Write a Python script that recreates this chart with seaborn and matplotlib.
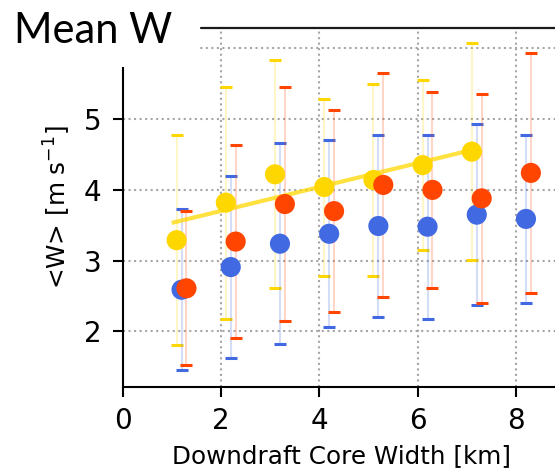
import numpy as np
import pandas as pd
import matplotlib
matplotlib.use("Agg")
import matplotlib.pyplot as plt
import seaborn as sns
from matplotlib.patches import Rectangle
from matplotlib.lines import Line2D

# Downdraft core width bins [km]
core_width_km = [1, 2, 3, 4, 5, 6, 7, 8]

# Mean vertical velocity <W> and its spread for each case
w_gold = [3.29, 3.82, 4.22, 4.04, 4.14, 4.35, 4.54]
err_gold = [1.48, 1.64, 1.61, 1.25, 1.36, 1.20, 1.53]

w_blue = [2.59, 2.91, 3.24, 3.38, 3.49, 3.48, 3.65, 3.59]
err_blue = [1.14, 1.28, 1.42, 1.32, 1.28, 1.30, 1.28, 1.19]

w_red = [2.61, 3.27, 3.80, 3.70, 4.07, 4.00, 3.88, 4.24]
err_red = [1.09, 1.36, 1.65, 1.43, 1.58, 1.38, 1.48, 1.70]

x_ticks = [0, 2, 4, 6, 8]
y_ticks = [2, 3, 4, 5, 6]
y_tick_labels = ["2", "3", "4", "5", ""]

series = [
    ("gold", w_gold, err_gold, "#FFD700", 0.1),
    ("blue", w_blue, err_blue, "#4169E1", 0.2),
    ("red", w_red, err_red, "#FF4500", 0.3),
]

frames = []
for name, mean, err, color, offset in series:
    bins = np.array(core_width_km[: len(mean)], dtype=float)
    frames.append(pd.DataFrame({"x": bins + offset, "w": mean, "err": err, "series": name}))
df = pd.concat(frames, ignore_index=True)

sns.set_style("ticks", {"axes.edgecolor": "black", "text.color": "black",
                        "axes.labelcolor": "black", "xtick.color": "black",
                        "ytick.color": "black"})
plt.rcParams["font.family"] = ["DejaVu Sans"]

W, H = 555, 468
fig = plt.figure(figsize=(W / 100, H / 100), dpi=100)
ax_left, ax_bottom = 122.5, 81.5
ax = fig.add_axes([ax_left / W, ax_bottom / H, 1 - ax_left / W, 1 - ax_bottom / H])

ax.grid(True, ls=":", color="#a6a6a6", lw=1.5, zorder=0)
ax.set_axisbelow(True)

# error bars: faint stems, solid caps
for name, mean, err, color, offset in series:
    sub = df[df.series == name]
    eb = ax.errorbar(sub.x, sub.w, yerr=sub.err, fmt="none", ecolor=color,
                     elinewidth=1.5, capsize=4.2, capthick=2.2, zorder=2)
    for coll in eb[2]:
        coll.set_alpha(0.22)

# linear trend through the gold case
gold = df[df.series == "gold"]
coef = np.polyfit(gold.x, gold.w, 1)
xs = np.array([core_width_km[0], gold.x.iloc[-1]])
ax.plot(xs, np.polyval(coef, xs), color="#FFD700", alpha=0.75, lw=3, zorder=3,
        solid_capstyle="butt")

palette = {name: color for name, _, _, color, _ in series}
sns.scatterplot(data=df, x="x", y="w", hue="series", palette=palette,
                hue_order=[s[0] for s in series], s=210, linewidth=0,
                legend=False, ax=ax, zorder=4)

ax.set_xlim(0, 8.79)
ax.set_ylim(1.223, 6.682)
ax.set_xticks(x_ticks)
ax.set_yticks(y_ticks, y_tick_labels)
ax.tick_params(labelsize=20, length=7, width=1.5, pad=8, colors="black")
for side in ("top", "right"):
    ax.spines[side].set_visible(False)
for side in ("left", "bottom"):
    ax.spines[side].set_linewidth(1.5)
    ax.spines[side].set_color("black")

ax.set_xlabel("Downdraft Core Width [km]", fontsize=17.7, color="black")
ax.xaxis.set_label_coords(0.5075, -0.149)
ax.set_ylabel(r"<W> [m s$^{-1}$]", fontsize=17.7, color="black")
ax.yaxis.set_label_coords(-0.1156, 0.464)

# slide header: white band, rule and title
fig.add_artist(Rectangle((0, 1 - 27 / H), 1, 27 / H, transform=fig.transFigure,
                         facecolor="white", edgecolor="none", zorder=10))
fig.add_artist(Rectangle((0, 1 - 67 / H), 200 / W, 67 / H, transform=fig.transFigure,
                         facecolor="white", edgecolor="none", zorder=10))
fig.add_artist(Line2D([201 / W, 1], [1 - 28.3 / H] * 2, transform=fig.transFigure,
                      color="#1a1a1a", lw=1.6, zorder=11))
fig.text(14 / W, 1 - 43 / H, "Mean W", fontsize=30, family=["Lato", "DejaVu Sans"],
         color="black", va="baseline", ha="left", zorder=12)

fig.savefig("out.png", dpi=100)
